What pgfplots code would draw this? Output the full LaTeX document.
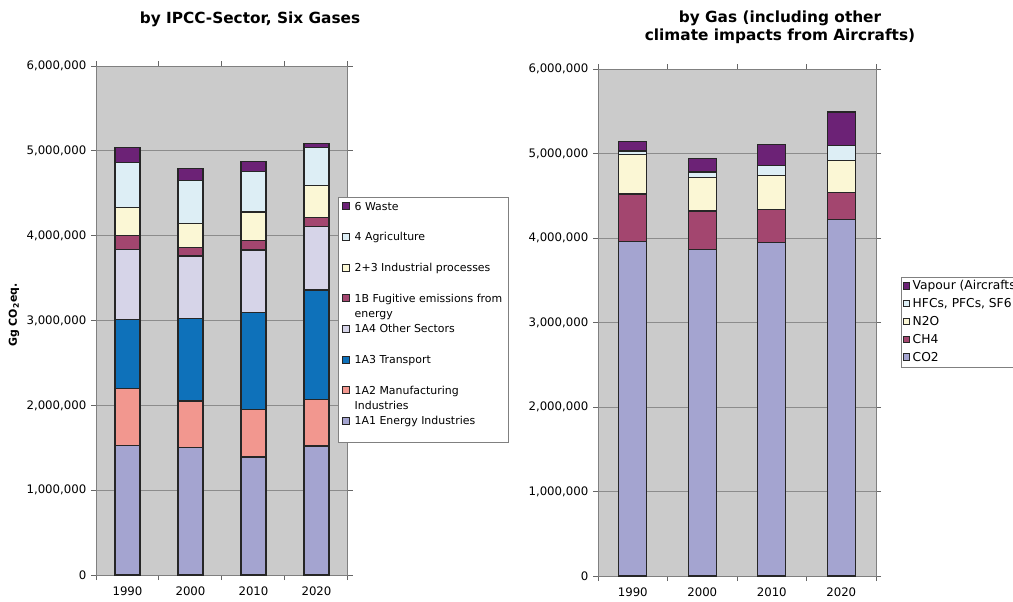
\documentclass[border=0pt]{standalone}
\usepackage{pgfplots}
\pgfplotsset{compat=1.18}
\usepackage{fontspec}
\setmainfont{DejaVu Sans}
\definecolor{cA}{HTML}{A4A4D0}
\definecolor{cB}{HTML}{F2978F}
\definecolor{cC}{HTML}{0E71BA}
\definecolor{cD}{HTML}{D6D4E8}
\definecolor{cE}{HTML}{A3466F}
\definecolor{cF}{HTML}{FBF7D5}
\definecolor{cG}{HTML}{DDEEF5}
\definecolor{cH}{HTML}{6C2276}
\definecolor{bgray}{HTML}{CBCBCB}
\pgfplotsset{
  common/.style={
    scale only axis,
    xmin=-0.5, xmax=3.5,
    ymin=0, ymax=6000000,
    ytick={0,1000000,2000000,3000000,4000000,5000000,6000000},
    scaled y ticks=false,
    yticklabel style={/pgf/number format/.cd,fixed,precision=0,1000 sep={,},assume math mode=true},
    xtick={-0.5,0.5,1.5,2.5,3.5},
    xticklabels={,,,,},
    extra x ticks={0,1,2,3},
    extra x tick labels={1990,2000,2010,2020},
    extra x tick style={major tick length=0pt, xticklabel style={yshift=-5pt}},
    tick align=outside,
    major tick length=3.75pt,
    tick style={draw=black!60, line width=0.75pt},
    ticklabel style={font=\fontsize{8.8}{10}\selectfont},
    axis background/.style={fill=bgray},
    axis line style={draw=black!50, line width=0.75pt},
    ymajorgrids,
    grid style={draw=black!45, line width=0.75pt},
    ybar stacked,
    every axis plot/.append style={draw=black!85, line width=0.9pt},
    legend cell align=left,
    reverse legend,
  }
}
\begin{document}
\begin{tikzpicture}
\useasboundingbox (0,0) rectangle (759.75pt,450.75pt);
\begin{axis}[common,
  at={(72pt,19.5pt)}, anchor=south west,
  width=189pt, height=381.75pt,
  bar width=18.75pt,
  legend style={at={(0.960,0.7426)}, anchor=north west, draw=black!50, fill=white,
    inner xsep=3pt, inner ysep=1.75pt, row sep=4pt, column sep=3.5pt,
    font=\fontsize{8.2}{11.25}\selectfont,
    nodes={inner sep=0pt, text height=8pt, text depth=11pt, anchor=base west}},
  legend image code/.code={\draw[#1, line width=0.6pt] (0pt,0.4pt) rectangle (5.25pt,5.65pt);},
]
\addplot[fill=cA] coordinates {(0,1530000) (1,1500000) (2,1390000) (3,1520000)};
\addlegendentry{1A1 Energy Industries}
\addplot[fill=cB] coordinates {(0,670000) (1,550000) (2,560000) (3,550000)};
\addlegendentry{\parbox[t]{112.5pt}{1A2 Manufacturing\\Industries}}
\addplot[fill=cC] coordinates {(0,810000) (1,970000) (2,1140000) (3,1290000)};
\addlegendentry{1A3 Transport}
\addplot[fill=cD] coordinates {(0,830000) (1,740000) (2,740000) (3,750000)};
\addlegendentry{1A4 Other Sectors}
\addplot[fill=cE] coordinates {(0,160000) (1,100000) (2,110000) (3,100000)};
\addlegendentry{\parbox[t]{112.5pt}{1B Fugitive emissions from\\energy}}
\addplot[fill=cF] coordinates {(0,330000) (1,280000) (2,340000) (3,380000)};
\addlegendentry{2+3 Industrial processes}
\addplot[fill=cG] coordinates {(0,530000) (1,510000) (2,480000) (3,450000)};
\addlegendentry{4 Agriculture}
\addplot[fill=cH] coordinates {(0,175000) (1,140000) (2,110000) (3,50000)};
\addlegendentry{6 Waste}
\end{axis}
\begin{axis}[common,
  at={(448.5pt,18.75pt)}, anchor=south west,
  width=208.5pt, height=380.25pt,
  bar width=21pt,
  legend style={at={(1.0899,0.5897)}, anchor=north west, draw=black!50, fill=white,
    inner xsep=1pt, inner ysep=2.4pt, row sep=3.85pt, column sep=2.2pt,
    font=\fontsize{9.2}{11}\selectfont,
    nodes={inner sep=0pt, text height=7pt, text depth=2.5pt, anchor=base west}},
  legend image code/.code={\draw[#1, line width=0.6pt] (0pt,0.6pt) rectangle (4.8pt,5.4pt);},
]
\addplot[fill=cA] coordinates {(0,3960000) (1,3860000) (2,3950000) (3,4220000)};
\addlegendentry{CO2}
\addplot[fill=cE] coordinates {(0,560000) (1,460000) (2,390000) (3,320000)};
\addlegendentry{CH4}
\addplot[fill=cF] coordinates {(0,470000) (1,400000) (2,400000) (3,380000)};
\addlegendentry{N2O}
\addplot[fill=cG] coordinates {(0,40000) (1,60000) (2,120000) (3,170000)};
\addlegendentry{HFCs, PFCs, SF6}
\addplot[fill=cH] coordinates {(0,115000) (1,160000) (2,250000) (3,400000)};
\addlegendentry{Vapour (Aircrafts)}
\end{axis}
\node[font=\bfseries\fontsize{11.5}{13.5}\selectfont] at (187.5pt,436.5pt) {by IPCC-Sector, Six Gases};
\node[font=\bfseries\fontsize{11.5}{13.5}\selectfont, align=center] at (585pt,430.5pt) {by Gas (including other\\climate impacts from Aircrafts)};
\node[font=\bfseries\fontsize{8.2}{9}\selectfont, rotate=90] at (10.5pt,214.5pt) {Gg CO\textsubscript{2}eq.};
\end{tikzpicture}
\end{document}
